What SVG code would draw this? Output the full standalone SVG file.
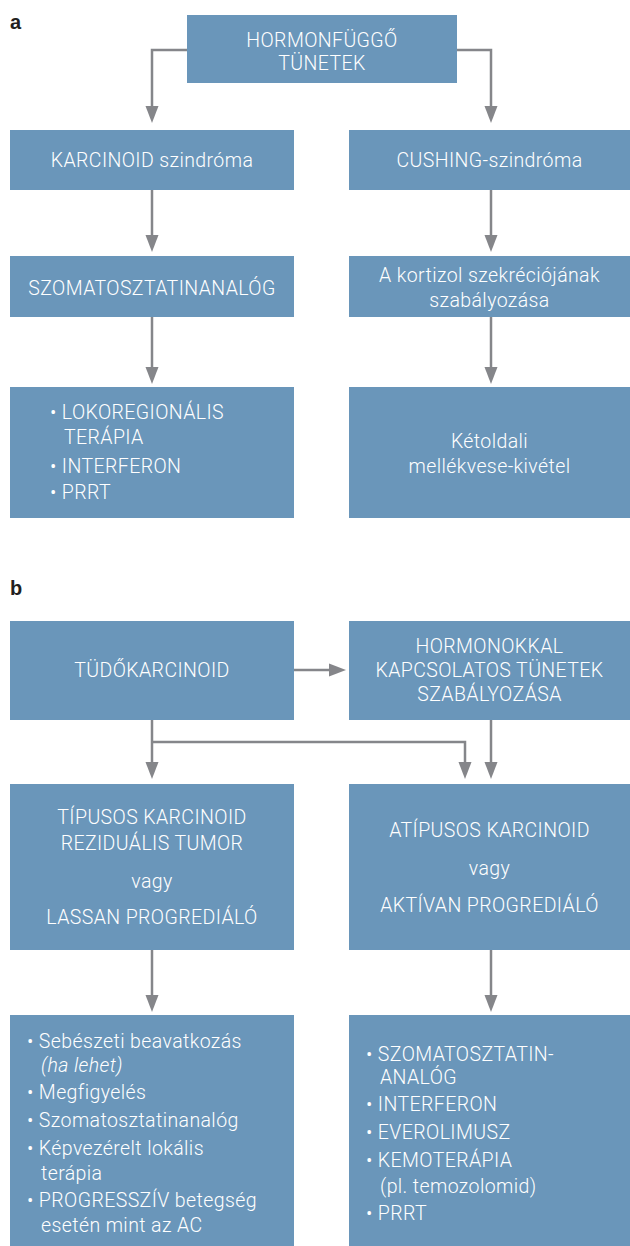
<svg xmlns="http://www.w3.org/2000/svg" width="630" height="1246" viewBox="0 0 630 1246">
<defs>
<style>
.box{fill:#6a96ba}
.t{font-family:Roboto,"Noto Sans",sans-serif;font-size:19.5px;font-weight:300;fill:#ffffff;letter-spacing:0.4px}
.c{text-anchor:middle}
.lbl{font-family:"Liberation Sans",Arial,sans-serif;font-size:20px;font-weight:bold;fill:#231f20}
.con{fill:none;stroke:#85868a;stroke-width:2.5}
.ah{fill:#85868a}
</style>
</defs>
<rect width="630" height="1246" fill="#ffffff"/>
<text class="lbl" x="10" y="29">a</text>
<text class="lbl" x="10" y="595">b</text>

<g id="connectors">
<path class="con" d="M187,50 H152 V108"/>
<path class="con" d="M457,50 H491 V108"/>
<path class="con" d="M152,190 V237"/>
<path class="con" d="M491,190 V237"/>
<path class="con" d="M152,317 V369"/>
<path class="con" d="M491,317 V369"/>
<path class="con" d="M294,670 H331"/>
<path class="con" d="M152,720 V764"/>
<path class="con" d="M152,742 H465 V764"/>
<path class="con" d="M491,720 V764"/>
<path class="con" d="M152,950 V997"/>
<path class="con" d="M491,950 V997"/>
<path class="ah" d="M145.5,106 h13 l-6.5,17 z"/>
<path class="ah" d="M484.5,106 h13 l-6.5,17 z"/>
<path class="ah" d="M145.5,235 h13 l-6.5,17 z"/>
<path class="ah" d="M484.5,235 h13 l-6.5,17 z"/>
<path class="ah" d="M145.5,367 h13 l-6.5,17 z"/>
<path class="ah" d="M484.5,367 h13 l-6.5,17 z"/>
<path class="ah" d="M329,663.5 v13 l17,-6.5 z"/>
<path class="ah" d="M145.5,762 h13 l-6.5,17 z"/>
<path class="ah" d="M458.5,762 h13 l-6.5,17 z"/>
<path class="ah" d="M484.5,762 h13 l-6.5,17 z"/>
<path class="ah" d="M145.5,995 h13 l-6.5,17 z"/>
<path class="ah" d="M484.5,995 h13 l-6.5,17 z"/>
</g>

<g id="n-hormonfuggo">
<rect class="box" x="187" y="15" width="270" height="68"/>
<text class="t c" x="322" y="47">HORMONFÜGGŐ</text>
<text class="t c" x="322" y="70">TÜNETEK</text>
</g>
<g id="n-karcinoid">
<rect class="box" x="10" y="130" width="284" height="60"/>
<text class="t c" x="152" y="167">KARCINOID szindróma</text>
</g>
<g id="n-cushing">
<rect class="box" x="349" y="130" width="281" height="60"/>
<text class="t c" x="489.5" y="167">CUSHING-szindróma</text>
</g>
<g id="n-szomatosztatinanalog">
<rect class="box" x="10" y="256" width="284" height="61"/>
<text class="t c" x="152" y="295">SZOMATOSZTATINANALÓG</text>
</g>
<g id="n-kortizol">
<rect class="box" x="349" y="256" width="281" height="61"/>
<text class="t c" x="489.5" y="282">A kortizol szekréciójának</text>
<text class="t c" x="489.5" y="307">szabályozása</text>
</g>
<g id="n-lokoregionalis">
<rect class="box" x="10" y="387" width="284" height="131"/>
<text class="t" x="50" y="419">• LOKOREGIONÁLIS</text>
<text class="t" x="64" y="444">TERÁPIA</text>
<text class="t" x="50" y="473">• INTERFERON</text>
<text class="t" x="50" y="499">• PRRT</text>
</g>
<g id="n-ketoldali">
<rect class="box" x="349" y="387" width="281" height="131"/>
<text class="t c" x="489.5" y="448">Kétoldali</text>
<text class="t c" x="489.5" y="473">mellékvese-kivétel</text>
</g>

<g id="n-tudokarcinoid">
<rect class="box" x="10" y="621" width="284" height="99"/>
<text class="t c" x="152" y="677">TÜDŐKARCINOID</text>
</g>
<g id="n-hormonokkal">
<rect class="box" x="349" y="621" width="281" height="99"/>
<text class="t c" x="489.5" y="653">HORMONOKKAL</text>
<text class="t c" x="489.5" y="677">KAPCSOLATOS TÜNETEK</text>
<text class="t c" x="489.5" y="701">SZABÁLYOZÁSA</text>
</g>
<g id="n-tipusos">
<rect class="box" x="10" y="784" width="284" height="166"/>
<text class="t c" x="152" y="824">TÍPUSOS KARCINOID</text>
<text class="t c" x="152" y="850">REZIDUÁLIS TUMOR</text>
<text class="t c" x="152" y="888">vagy</text>
<text class="t c" x="152" y="924">LASSAN PROGREDIÁLÓ</text>
</g>
<g id="n-atipusos">
<rect class="box" x="349" y="784" width="281" height="166"/>
<text class="t c" x="489.5" y="837">ATÍPUSOS KARCINOID</text>
<text class="t c" x="489.5" y="875">vagy</text>
<text class="t c" x="489.5" y="912">AKTÍVAN PROGREDIÁLÓ</text>
</g>
<g id="n-list-left">
<rect class="box" x="10" y="1015" width="284" height="231"/>
<text class="t" x="27" y="1048">• Sebészeti beavatkozás</text>
<text class="t" x="41" y="1072" font-style="italic">(ha lehet)</text>
<text class="t" x="27" y="1099">• Megfigyelés</text>
<text class="t" x="27" y="1127">• Szomatosztatinanalóg</text>
<text class="t" x="27" y="1155">• Képvezérelt lokális</text>
<text class="t" x="41" y="1180">terápia</text>
<text class="t" x="27" y="1207">• PROGRESSZÍV betegség</text>
<text class="t" x="41" y="1232">esetén mint az AC</text>
</g>
<g id="n-list-right">
<rect class="box" x="349" y="1015" width="281" height="231"/>
<text class="t" x="366" y="1061">• SZOMATOSZTATIN-</text>
<text class="t" x="380" y="1084">ANALÓG</text>
<text class="t" x="366" y="1111">• INTERFERON</text>
<text class="t" x="366" y="1139">• EVEROLIMUSZ</text>
<text class="t" x="366" y="1167">• KEMOTERÁPIA</text>
<text class="t" x="380" y="1193">(pl. temozolomid)</text>
<text class="t" x="366" y="1220">• PRRT</text>
</g>
</svg>
